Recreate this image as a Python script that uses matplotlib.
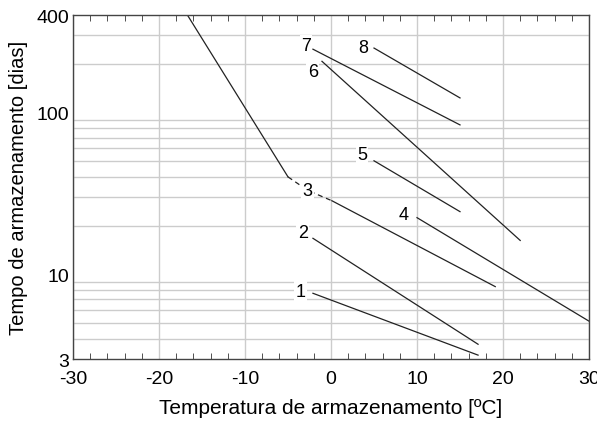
import matplotlib.pyplot as plt
from matplotlib.ticker import FixedLocator, MultipleLocator, NullFormatter

# storage curves: temperature [C] -> storage time [days]
main_x = [-16.7, -5.0]
main_y = [400, 40]
dash_x = [-5.0, -2.7, 0.1]
dash_y = [40, 33, 28.5]

lines_x = {
    "1": [-2.1, 17.1],
    "2": [-2.1, 17.1],
    "3": [0.1, 19.1],
    "4": [10.0, 30.0],
    "5": [5.0, 15.0],
    "6": [-1.05, 22.0],
    "7": [-2.1, 15.0],
    "8": [5.0, 15.0],
}
lines_y = {
    "1": [7.64, 3.17],
    "2": [16.7, 3.7],
    "3": [28.5, 8.4],
    "4": [22.4, 5.14],
    "5": [50.3, 24.4],
    "6": [207, 16.2],
    "7": [246, 83.8],
    "8": [250, 123],
}
label_pos = {
    "1": (-3.5, 7.85),
    "2": (-3.3, 18.1),
    "3": (-2.7, 32.9),
    "4": (8.5, 23.4),
    "5": (3.6, 54.7),
    "6": (-2.1, 180),
    "7": (-2.9, 260),
    "8": (3.7, 253),
}

x_ticks = [-30, -20, -10, 0, 10, 20, 30]
y_ticks = [3, 10, 100, 400]
y_grid = [4, 5, 6, 7, 8, 9, 10, 20, 30, 40, 50, 60, 70, 80, 90, 100, 200, 300]

plt.rcParams["font.family"] = ["Liberation Sans", "DejaVu Sans"]

fig = plt.figure(figsize=(5.97, 4.27), dpi=100)
ax = fig.add_axes([0.1223, 0.1569, 0.8643, 0.8056])

ax.set_yscale("log")
ax.set_xlim(-30, 30)
ax.set_ylim(3, 400)

# grid
ax.xaxis.set_major_locator(FixedLocator(x_ticks))
ax.xaxis.set_minor_locator(MultipleLocator(2))
ax.set_xticklabels([str(t) for t in x_ticks])
ax.yaxis.set_major_locator(FixedLocator(y_ticks))
ax.yaxis.set_minor_locator(FixedLocator(y_grid))
ax.yaxis.set_minor_formatter(NullFormatter())
ax.set_yticklabels([str(t) for t in y_ticks])
ax.grid(True, which="major", axis="x", color="#cccccc", lw=1)
ax.grid(True, which="minor", axis="y", color="#cccccc", lw=1)
ax.set_axisbelow(True)

ax.tick_params(axis="x", which="both", direction="in", top=True, bottom=True,
               labelsize=14, color="#333333", pad=8)
ax.tick_params(axis="x", which="major", length=0)
ax.tick_params(axis="x", which="minor", length=4)
ax.tick_params(axis="y", which="both", length=0, labelsize=14, pad=3)

for s in ax.spines.values():
    s.set_color("#444444")
    s.set_linewidth(1)

ax.plot(main_x, main_y, color="#222222", lw=0.9)
ax.plot(dash_x, dash_y, color="#222222", lw=0.9, ls=(0, (4, 3)))
for k in lines_x:
    ax.plot(lines_x[k], lines_y[k], color="#222222", lw=0.9)
for k, (lx, ly) in label_pos.items():
    ax.text(lx, ly, k, fontsize=13, ha="center", va="center",
            bbox=dict(facecolor="white", edgecolor="none", pad=1.0))

ax.set_xlabel("Temperatura de armazenamento [ºC]", fontsize=15, labelpad=8)
ax.set_ylabel("Tempo de armazenamento [dias]", fontsize=14.5, labelpad=6)

fig.savefig("out.png", dpi=100)
